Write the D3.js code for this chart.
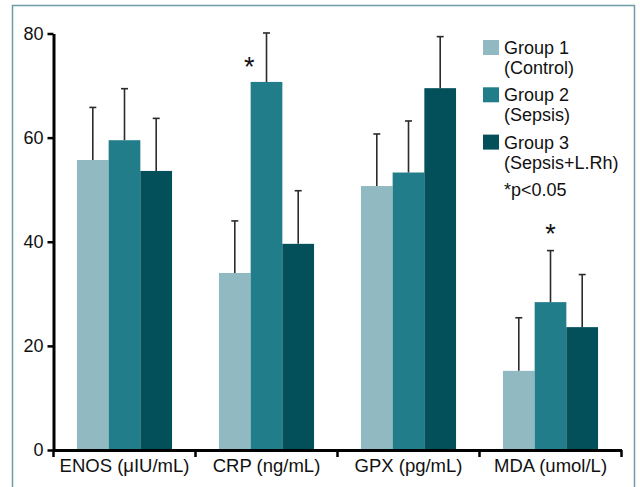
<!DOCTYPE html>
<html>
<head>
<meta charset="utf-8">
<script src="https://cdn.jsdelivr.net/npm/d3@7"></script>
<style>
  html, body { margin: 0; padding: 0; background: #fff; }
  svg { display: block; font-family: "Liberation Sans", Arial, sans-serif; }
</style>
</head>
<body>
<svg id="chart"></svg>
<script>
// Data
const categories = ['ENOS (μIU/mL)', 'CRP (ng/mL)', 'GPX (pg/mL)', 'MDA (umol/L)'];
const groups = ['Group 1', 'Group 2', 'Group 3'];
const groupNotes = ['(Control)', '(Sepsis)', '(Sepsis+L.Rh)'];
const group1 = [55.7, 34.0, 50.7, 15.2];
const group1Err = [10.1, 10.0, 10.0, 10.2];
const group2 = [59.5, 70.7, 53.3, 28.4];
const group2Err = [9.9, 9.4, 9.9, 9.9];
const group3 = [53.6, 39.6, 69.5, 23.6];
const group3Err = [10.1, 10.2, 9.9, 10.1];
const yTicks = [0, 20, 40, 60, 80];
// significance marks: category index, group index, height (in data units)
const stars = [
  {cat: 1, group: 1, value: 71.9, side: 'left'},
  {cat: 3, group: 1, value: 39.8, side: 'center'}
];

const colors = ['#91b9c1', '#217d89', '#03505b'];

const width = 640;
const height = 487;
const padding = {top: 33.5, bottom: 37, left: 53.5, right: 18.5};

const svg = d3.select('#chart')
  .attr('width', width)
  .attr('height', height);

// frame round the figure
svg.append('rect')
  .attr('x', 12.5).attr('y', 5.5)
  .attr('width', 622).attr('height', 500)
  .attr('fill', 'none')
  .attr('stroke', '#6f9ca4')
  .attr('stroke-width', 1.5);

const values = [group1, group2, group3];
const errors = [group1Err, group2Err, group3Err];
const rows = categories.map((c, i) => ({
  category: c,
  bars: groups.map((g, j) => ({group: g, j, value: values[j][i], err: errors[j][i]}))
}));

const x0 = d3.scaleBand()
  .domain(categories)
  .range([padding.left, width - padding.right]);

const x1 = d3.scaleBand()
  .domain(groups)
  .range([0, x0.bandwidth()])
  .paddingOuter(0.74);

const y = d3.scaleLinear()
  .domain([0, 80])
  .range([height - padding.bottom, padding.top]);

// bars
const cat = svg.append('g').selectAll('g')
  .data(rows)
  .join('g')
  .attr('transform', d => `translate(${x0(d.category)},0)`);

cat.selectAll('rect')
  .data(d => d.bars)
  .join('rect')
  .attr('x', d => x1(d.group))
  .attr('y', d => y(d.value))
  .attr('width', x1.bandwidth())
  .attr('height', d => y(0) - y(d.value))
  .attr('fill', d => colors[d.j]);

// error bars (upper only)
const err = cat.selectAll('g.err')
  .data(d => d.bars)
  .join('g')
  .attr('class', 'err')
  .attr('stroke', '#2b2b2b')
  .attr('stroke-width', 1.6);

err.append('line')
  .attr('x1', d => x1(d.group) + x1.bandwidth() / 2)
  .attr('x2', d => x1(d.group) + x1.bandwidth() / 2)
  .attr('y1', d => y(d.value))
  .attr('y2', d => y(d.value + d.err));

err.append('line')
  .attr('x1', d => x1(d.group) + x1.bandwidth() / 2 - 3.5)
  .attr('x2', d => x1(d.group) + x1.bandwidth() / 2 + 3.5)
  .attr('y1', d => y(d.value + d.err))
  .attr('y2', d => y(d.value + d.err));

// asterisks
svg.append('g').selectAll('text')
  .data(stars)
  .join('text')
  .attr('x', d => {
    const left = x0(categories[d.cat]) + x1(groups[d.group]);
    return d.side === 'left' ? left - 1.5 : left + x1.bandwidth() / 2;
  })
  .attr('y', d => y(d.value))
  .attr('text-anchor', 'middle')
  .attr('font-size', 27)
  .attr('fill', '#111')
  .text('*');

// y axis
const yAxis = svg.append('g')
  .attr('transform', `translate(${padding.left},0)`)
  .call(d3.axisLeft(y).tickValues(yTicks).tickSize(6).tickSizeOuter(0).tickPadding(4));
yAxis.select('.domain').attr('stroke-width', 3);
yAxis.selectAll('.tick line').attr('stroke-width', 2.5);
yAxis.selectAll('.tick text')
  .attr('font-size', 18)
  .attr('font-family', '"Liberation Sans", Arial, sans-serif')
  .attr('fill', '#111');

// x axis: labels at band centres, ticks at band edges
const xAxis = svg.append('g')
  .attr('transform', `translate(0,${y(0)})`)
  .call(d3.axisBottom(x0).tickSize(0).tickPadding(9).tickSizeOuter(0));
xAxis.select('.domain').attr('stroke-width', 3);
xAxis.selectAll('.tick text')
  .attr('font-size', 18.5)
  .attr('font-family', '"Liberation Sans", Arial, sans-serif')
  .attr('fill', '#111');

const edges = categories.map(c => x0(c)).concat([x0.range()[1]]);
xAxis.selectAll('line.edge')
  .data(edges)
  .join('line')
  .attr('class', 'edge')
  .attr('x1', d => d).attr('x2', d => d)
  .attr('y1', 0).attr('y2', 7)
  .attr('stroke', '#000')
  .attr('stroke-width', 2.5);

// legend
const legend = svg.append('g')
  .attr('transform', 'translate(483,40)')
  .attr('font-size', 18)
  .attr('fill', '#111');

const item = legend.selectAll('g')
  .data(groups)
  .join('g')
  .attr('transform', (d, i) => `translate(0,${i * 47.3})`);

item.append('rect')
  .attr('width', 16).attr('height', 15)
  .attr('fill', (d, i) => colors[i]);

item.append('text')
  .attr('x', 21).attr('y', 14)
  .text(d => d);

item.append('text')
  .attr('x', 21).attr('y', 34)
  .text((d, i) => groupNotes[i]);

legend.append('text')
  .attr('x', 21).attr('y', 155.5)
  .text('*p<0.05');
</script>
</body>
</html>
